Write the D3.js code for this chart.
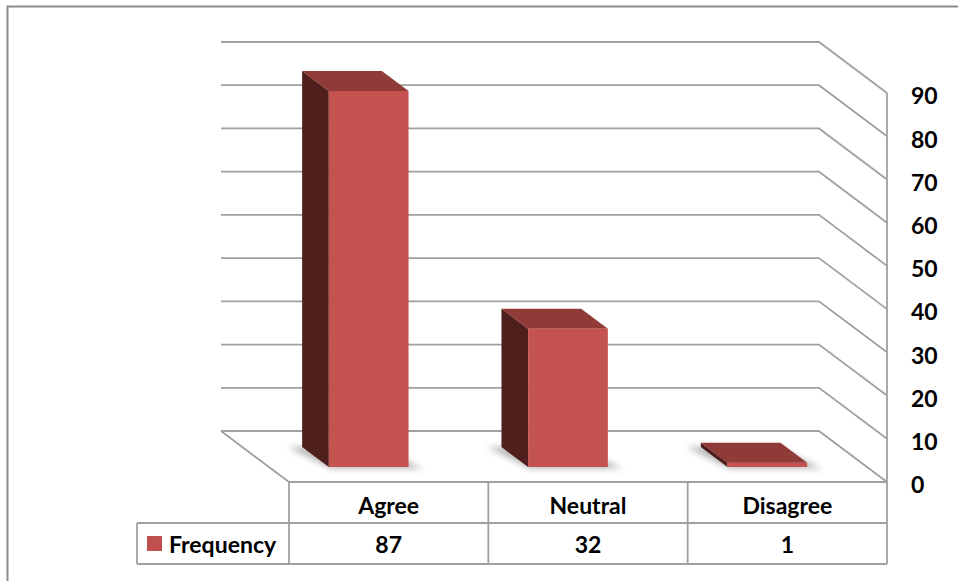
<!DOCTYPE html>
<html lang="en">
<head>
<meta charset="UTF-8">
<title>Frequency</title>
<script src="https://cdn.jsdelivr.net/npm/d3@7"></script>
<style>
    body { margin: 0; background: #fff; }
    svg { display: block; }
    .grid line, .grid path { stroke: #a0a0a0; stroke-width: 1.8px; fill: none; }
    .tbl line { stroke: #a0a0a0; stroke-width: 1.8px; }
    text { font-family: Lato, "Open Sans", sans-serif; font-weight: bold; fill: #000; }
</style>
</head>
<body>
<svg width="958" height="581"></svg>
<script>
const categories = ["Agree", "Neutral", "Disagree"];
const values = [87, 32, 1];
const seriesName = "Frequency";
const ticks = [0, 10, 20, 30, 40, 50, 60, 70, 80, 90];

const svg = d3.select("svg");
const FS = 23;

// front plane scales
const x = d3.scaleBand().domain(categories).range([289, 887]);
const y = d3.scaleLinear().domain([0, 90]).range([482, 93]);

// depth: f = 0 front edge of floor, f = 1 back wall
const DX = 68, DY = 51;
const proj = (px, v, f) => [px - f * DX, y(v) - f * DY];

// outer frame
svg.append("path")
    .attr("d", "M7.5,581 V6.5 H958")
    .attr("fill", "none")
    .attr("stroke", "#8c8c8c")
    .attr("stroke-width", 2);

const defs = svg.append("defs");
defs.append("filter").attr("id", "shadow")
    .attr("x", "-50%").attr("y", "-50%").attr("width", "200%").attr("height", "200%")
    .append("feGaussianBlur").attr("stdDeviation", 3);

// walls / gridlines
const grid = svg.append("g").attr("class", "grid");
const xL = x.range()[0], xR = x.range()[1];
ticks.forEach(t => {
    const a = proj(xL, t, 1), b = proj(xR, t, 1), c = proj(xR, t, 0);
    grid.append("path").attr("d", `M${a}L${b}L${c}`);
});
grid.append("line")
    .attr("x1", xR).attr("x2", xR)
    .attr("y1", y(90)).attr("y2", y(0));
grid.append("path").attr("d", `M${proj(xL, 0, 1)}L${proj(xL, 0, 0)}`);

// axis labels
svg.append("g").selectAll("text")
    .data(ticks)
    .join("text")
    .attr("x", xR + 24)
    .attr("y", d => y(d) + 3)
    .attr("dy", "0.36em")
    .attr("font-size", FS)
    .text(d => d);

// bars
const fFront = 15 / DY, fBack = 35 / DY;
const bw = x.bandwidth() * 0.4;
const bars = svg.append("g").selectAll("g")
    .data(categories.map((c, i) => ({ c, v: values[i] })))
    .join("g");

bars.append("path")
    .attr("filter", "url(#shadow)")
    .attr("fill", "#7a7a7a")
    .attr("opacity", 0.55)
    .attr("d", d => {
        const x0 = x(d.c) + (x.bandwidth() - bw) / 2, x1 = x0 + bw;
        const p = [proj(x0 - 14, 0, fBack), proj(x1 - 4, 0, fBack), proj(x1 + 12, 0, fFront - 0.03), proj(x0, 0, fFront - 0.03)];
        return "M" + p.join("L") + "Z";
    });

bars.append("path")
    .attr("fill", "#4f1f1e")
    .attr("d", d => {
        const x0 = x(d.c) + (x.bandwidth() - bw) / 2;
        const p = [proj(x0, 0, fFront), proj(x0, d.v, fFront), proj(x0, d.v, fBack), proj(x0, 0, fBack)];
        return "M" + p.join("L") + "Z";
    });

bars.append("path")
    .attr("fill", "#913b39")
    .attr("d", d => {
        const x0 = x(d.c) + (x.bandwidth() - bw) / 2, x1 = x0 + bw;
        const p = [proj(x0, d.v, fFront), proj(x1, d.v, fFront), proj(x1, d.v, fBack), proj(x0, d.v, fBack)];
        return "M" + p.join("L") + "Z";
    });

bars.append("path")
    .attr("fill", "#c4524f")
    .attr("d", d => {
        const x0 = x(d.c) + (x.bandwidth() - bw) / 2, x1 = x0 + bw;
        const p = [proj(x0, 0, fFront), proj(x1, 0, fFront), proj(x1, d.v, fFront), proj(x0, d.v, fFront)];
        return "M" + p.join("L") + "Z";
    });

// data table
const r0 = 482, r1 = 523, r2 = 564, legX = 137;
const tbl = svg.append("g").attr("class", "tbl");
tbl.append("line").attr("x1", xL).attr("x2", xR).attr("y1", r0).attr("y2", r0);
tbl.append("line").attr("x1", legX).attr("x2", xR).attr("y1", r1).attr("y2", r1);
tbl.append("line").attr("x1", legX).attr("x2", xR).attr("y1", r2).attr("y2", r2);
tbl.append("line").attr("x1", legX).attr("x2", legX).attr("y1", r1).attr("y2", r2);
categories.concat([null]).forEach(c => {
    const xx = c ? x(c) : xR;
    tbl.append("line").attr("x1", xx).attr("x2", xx).attr("y1", r0).attr("y2", r2);
});

svg.append("g").selectAll("text")
    .data(categories)
    .join("text")
    .attr("x", d => x(d) + x.bandwidth() / 2)
    .attr("y", (r0 + r1) / 2 + 3)
    .attr("dy", "0.36em")
    .attr("text-anchor", "middle")
    .attr("font-size", FS)
    .text(d => d);

svg.append("g").selectAll("text")
    .data(values)
    .join("text")
    .attr("x", (d, i) => x(categories[i]) + x.bandwidth() / 2)
    .attr("y", (r1 + r2) / 2 + 1)
    .attr("dy", "0.36em")
    .attr("text-anchor", "middle")
    .attr("font-size", FS)
    .text(d => d);

svg.append("rect")
    .attr("x", 147).attr("y", 536).attr("width", 15).attr("height", 15)
    .attr("fill", "#c0504d");
svg.append("text")
    .attr("x", 169)
    .attr("y", (r1 + r2) / 2 + 1)
    .attr("dy", "0.36em")
    .attr("font-size", FS)
    .text(seriesName);
</script>
</body>
</html>
